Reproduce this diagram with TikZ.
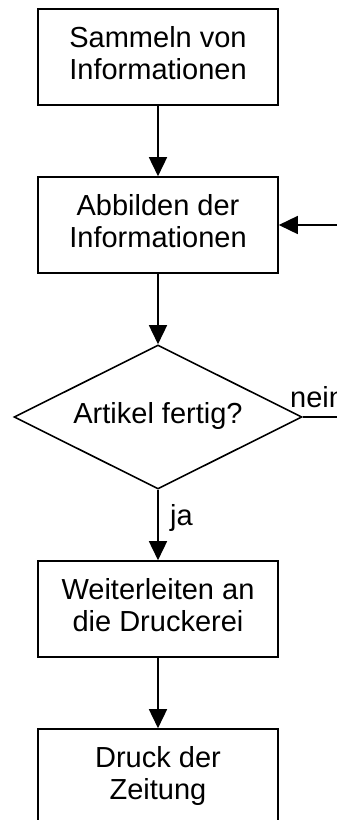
\documentclass[tikz,border=0pt]{standalone}
\usepackage{fontspec}
\setmainfont{Liberation Sans}
\usetikzlibrary{
    shapes.geometric,
    arrows.meta,
    positioning
}
\newcommand{\boxfont}{\fontsize{29}{32.6}\selectfont}

\begin{document}
\begin{tikzpicture}[
        x=1pt, y=-1pt,
        block/.style={draw, line width=1.6pt, minimum width=240pt, minimum height=96pt, inner sep=0pt, align=center, font=\boxfont},
        decision/.style={draw, diamond, aspect=2, line width=1.6pt, minimum width=288pt, minimum height=144pt, inner sep=0pt, align=center, font=\boxfont},
        arrow/.style={-{Triangle[length=19pt, width=18pt]}, line width=1.6pt},
        lbl/.style={inner sep=0pt, font=\boxfont}
    ]
        \path[use as bounding box, clip] (0,0) rectangle (337,820);

        % Steps
        \node[block] (sammeln) at (158, 57) {\strut Sammeln von\\Informationen\strut};

        \node[block] (abbilden) at (158, 225) {\strut Abbilden der\\Informationen\strut};

        \node[decision] (fertig) at (158, 417) {\strut Artikel fertig?\strut};

        \node[block] (weiter) at (158, 609) {\strut Weiterleiten an\\die Druckerei\strut};

        \node[block] (druck) at (158, 777) {\strut Druck der\\Zeitung\strut};

        % Arrows
        \draw[arrow] (sammeln) -- (abbilden);
        \draw[arrow] (abbilden) -- (fertig);
        \draw[arrow] (fertig) -- (weiter);
        \draw[arrow] (weiter) -- (druck);

        % Loop back
        \coordinate (back) at (360, 417);
        \draw[arrow] (fertig.east) -- (back) |- (abbilden.east);

        % Branch labels
        \node[lbl, anchor=base west] (nein) at (290, 407) {nein};
        \node[lbl, anchor=base west] (ja) at (170, 525) {ja};
    \end{tikzpicture}
\end{document}
